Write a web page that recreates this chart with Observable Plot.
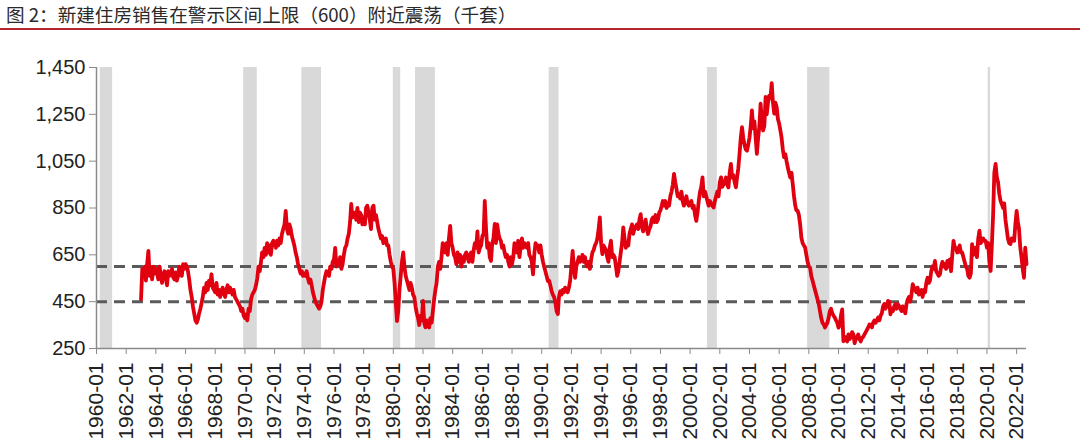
<!DOCTYPE html>
<html>
<head>
<meta charset="utf-8">
<script src="https://cdn.jsdelivr.net/npm/d3@7"></script>
<script src="https://cdn.jsdelivr.net/npm/@observablehq/plot@0.6"></script>
<style>
  html, body { margin: 0; padding: 0; background: #fff; width: 1080px; height: 443px; overflow: hidden; }
  #title {
    height: 28px; line-height: 28px; padding-left: 6px;
    font-family: "Noto Sans CJK SC", sans-serif; font-size: 18.6px; color: #2a2a2a;
    border-bottom: 2px solid #b3262c; box-sizing: content-box; white-space: nowrap;
  }
  #chart svg { display: block; }
</style>
</head>
<body>
<div id="title">图 2：新建住房销售在警示区间上限（600）附近震荡（千套）</div>
<div id="chart"></div>
<script>
// ---- data (thousands of units, SAAR, monthly from 1963-01) ----
const firstYear = 1963;
const sales = [
  // 1963
  460, 590, 560, 600, 540, 610, 667, 560, 590, 545, 600, 570,
  // 1964
  590, 570, 545, 600, 560, 530, 565, 580, 555, 520, 580, 560,
  // 1965
  570, 590, 555, 545, 575, 540, 560, 600, 580, 560, 610, 590,
  // 1966
  610, 600, 580, 545, 500, 470, 430, 400, 370, 360, 375, 400,
  // 1967
  420, 445, 470, 510, 490, 530, 500, 540, 520, 567, 510, 500,
  // 1968
  490, 530, 480, 500, 470, 490, 510, 485, 470, 500, 520, 490,
  // 1969
  510, 495, 480, 500, 470, 460, 450, 440, 430, 410, 420, 390,
  // 1970
  380, 395, 370, 420, 410, 460, 480, 490, 500, 520, 550, 600,
  // 1971
  580, 620, 660, 640, 680, 650, 700, 660, 690, 650, 700, 710,
  // 1972
  700, 680, 710, 690, 720, 700, 740, 760, 780, 838, 760, 740,
  // 1973
  780, 760, 730, 710, 690, 660, 640, 610, 590, 570, 580, 560,
  // 1974
  570, 560, 580, 550, 530, 545, 520, 490, 470, 450, 440, 430,
  // 1975
  420, 430, 450, 500, 530, 560, 580, 575, 560, 600, 590, 620,
  // 1976
  630, 680, 600, 620, 610, 640, 590, 610, 650, 680, 690, 720,
  // 1977
  740, 790, 867, 810, 820, 830, 800, 850, 790, 830, 820, 780,
  // 1978
  810, 780, 850, 860, 830, 800, 760, 850, 860, 800, 820, 790,
  // 1979
  760, 740, 720, 730, 700, 710, 720, 690, 690, 650, 620, 600,
  // 1980
  590, 530, 450, 367, 410, 500, 560, 620, 660, 600, 560, 540,
  // 1981
  520, 500, 530, 510, 480, 470, 430, 400, 380, 350, 390, 370,
  // 1982
  453, 360, 340, 370, 350, 340, 380, 360, 410, 460, 500, 530,
  // 1983
  600, 620, 590, 640, 700, 680, 660, 700, 650, 720, 774, 700,
  // 1984
  680, 650, 640, 610, 660, 620, 650, 600, 640, 620, 650, 660,
  // 1985
  640, 620, 650, 660, 620, 670, 700, 680, 750, 660, 680, 690,
  // 1986
  730, 740, 880, 760, 680, 700, 640, 624, 700, 720, 782, 700,
  // 1987
  780, 740, 720, 710, 680, 690, 660, 640, 650, 620, 600, 640,
  // 1988
  610, 640, 700, 680, 660, 710, 640, 680, 720, 680, 700, 690,
  // 1989
  680, 700, 650, 640, 620, 567, 650, 700, 681, 690, 660, 690,
  // 1990
  650, 620, 600, 580, 560, 538, 540, 520, 495, 480, 470, 450,
  // 1991
  410, 397, 470, 495, 480, 500, 490, 510, 505, 490, 510, 540,
  // 1992
  600, 667, 600, 552, 600, 620, 640, 620, 630, 650, 620, 640,
  // 1993
  610, 600, 620, 590, 630, 660, 670, 690, 700, 720, 760, 810,
  // 1994
  700, 653, 690, 680, 670, 640, 620, 680, 710, 640, 650, 640,
  // 1995
  600, 560, 580, 620, 660, 700, 767, 720, 680, 700, 690, 740,
  // 1996
  760, 780, 740, 760, 770, 780, 760, 800, 824, 770, 750, 780,
  // 1997
  800, 760, 739, 760, 770, 800, 810, 790, 820, 790, 800, 830,
  // 1998
  840, 860, 880, 860, 880, 850, 870, 860, 900, 920, 950, 996,
  // 1999
  960, 930, 900, 910, 890, 920, 880, 860, 880, 900, 870, 860,
  // 2000
  870, 880, 850, 860, 820, 795, 830, 880, 920, 940, 981, 900,
  // 2001
  920, 900, 880, 860, 880, 870, 860, 852, 880, 900, 920, 900,
  // 2002
  960, 981, 940, 950, 960, 980, 950, 938, 1000, 1038, 980, 990,
  // 2003
  960, 938, 980, 1020, 1080, 1150, 1195, 1150, 1120, 1100, 1095, 1120,
  // 2004
  1150, 1200, 1267, 1190, 1220, 1150, 1081, 1150, 1200, 1296, 1220, 1181,
  // 2005
  1200, 1324, 1250, 1300, 1330, 1320, 1383, 1300, 1253, 1300, 1280, 1230,
  // 2006
  1210, 1180, 1150, 1100, 1067, 1080, 1050, 1024, 1000, 980, 1000, 952,
  // 2007
  900, 860, 840, 838, 820, 780, 724, 700, 690, 681, 650, 620,
  // 2008
  600, 595, 560, 540, 520, 500, 481, 460, 440, 410, 380, 360,
  // 2009
  353, 340, 350, 360, 380, 410, 420, 400, 390, 382, 370, 360,
  // 2010
  339, 350, 390, 417, 281, 300, 290, 280, 310, 290, 300, 320,
  // 2011
  310, 273, 290, 300, 310, 290, 280, 295, 300, 310, 320, 330,
  // 2012
  340, 353, 350, 340, 360, 370, 360, 370, 382, 370, 390, 400,
  // 2013
  430, 440, 420, 430, 453, 450, 396, 420, 410, 430, 440, 420,
  // 2014
  439, 430, 420, 410, 430, 420, 400, 440, 460, 470, 450, 480,
  // 2015
  525, 510, 500, 490, 510, 480, 495, 500, 470, 500, 490, 530,
  // 2016
  552, 530, 540, 580, 600, 590, 624, 580, 570, 560, 567, 600,
  // 2017
  620, 600, 610, 590, 624, 600, 630, 580, 650, 710, 680, 680,
  // 2018
  660, 667, 690, 660, 660, 640, 620, 600, 590, 560, 552, 570,
  // 2019
  696, 650, 660, 680, 640, 720, 753, 700, 710, 720, 710, 710,
  // 2020
  681, 700, 620, 581, 690, 820, 1000, 1038, 980, 960, 910, 880,
  // 2021
  867, 850, 870, 800, 760, 720, 700, 696, 720, 720, 710, 780,
  // 2022
  838, 790, 760, 681, 640, 590, 552, 681, 610
];

// NBER recessions (shaded)
const recessionStart = ["1960-04", "1969-12", "1973-11", "1980-01", "1981-07", "1990-07", "2001-03", "2007-12", "2020-02"];
const recessionEnd   = ["1961-02", "1970-11", "1975-03", "1980-07", "1982-11", "1991-03", "2001-11", "2009-06", "2020-04"];

// warning band levels
const guideLevels = [600, 450];

// ticks
const yTicks = [250, 450, 650, 850, 1050, 1250, 1450];
const xTickYears = [1960,1962,1964,1966,1968,1970,1972,1974,1976,1978,1980,1982,1984,1986,1988,1990,1992,1994,1996,1998,2000,2002,2004,2006,2008,2010,2012,2014,2016,2018,2020,2022];
const xDomain = ["1960-01", "2022-09"];

// ---- build ----
const parseMonth = d3.utcParse("%Y-%m");
const series = sales.map((v, i) => ({date: new Date(Date.UTC(firstYear, i, 1)), value: v}));
const recessions = recessionStart.map((s, i) => ({x1: parseMonth(s), x2: parseMonth(recessionEnd[i])}));
const xTicks = xTickYears.map(y => new Date(Date.UTC(y, 0, 1)));
const x0 = parseMonth(xDomain[0]);

const chart = Plot.plot({
  width: 1080,
  height: 413,
  marginTop: 37,
  marginBottom: 95,
  marginLeft: 96,
  marginRight: 54,
  style: {fontFamily: "'Liberation Sans', Arial, sans-serif", fontSize: "20px", color: "#222", background: "#fff"},
  x: {type: "utc", domain: [x0, parseMonth(xDomain[1])], label: null},
  y: {domain: [250, 1450], label: null},
  marks: [
    Plot.rect(recessions, {x1: "x1", x2: "x2", y1: () => 250, y2: () => 1450, fill: "#d9d9d9"}),
    Plot.ruleY(guideLevels, {stroke: "#5a5a5a", strokeWidth: 3, strokeDasharray: "11,7"}),
    Plot.lineY(series, {x: "date", y: "value", stroke: "#e0000f", strokeWidth: 3.8, strokeLinejoin: "round"}),
    Plot.ruleX([x0], {y1: 250, y2: 1450, stroke: "#8a8a8a", strokeWidth: 1.5}),
    Plot.ruleY([250], {stroke: "#8a8a8a", strokeWidth: 1.5}),
    Plot.axisY({ticks: yTicks, tickFormat: d3.format(","), tickSize: 7, tickPadding: 4, fontSize: 20, stroke: "#8a8a8a", fill: "#222", label: null}),
    Plot.axisX({ticks: xTicks, tickFormat: d3.utcFormat("%Y-%m"), tickRotate: -90, tickSize: 6, tickPadding: 8, fontSize: 21, stroke: "#8a8a8a", fill: "#222", label: null})
  ]
});
document.getElementById("chart").appendChild(chart);
</script>
</body>
</html>
